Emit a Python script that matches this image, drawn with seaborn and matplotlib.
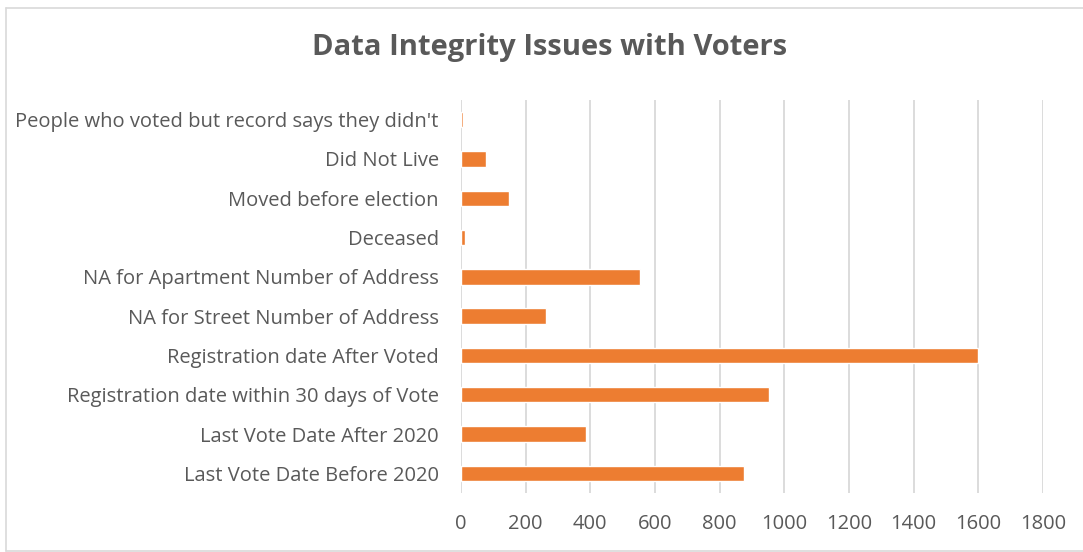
import matplotlib
matplotlib.use("Agg")
import matplotlib.pyplot as plt
import seaborn as sns
import pandas as pd
from matplotlib.lines import Line2D

categories = [
    "People who voted but record says they didn't",
    "Did Not Live",
    "Moved before election",
    "Deceased",
    "NA for Apartment Number of Address",
    "NA for Street Number of Address",
    "Registration date After Voted",
    "Registration date within 30 days of Vote",
    "Last Vote Date After 2020",
    "Last Vote Date Before 2020",
]
values = [7, 76, 148, 11, 555, 264, 1600, 954, 386, 874]
x_ticks = [0, 200, 400, 600, 800, 1000, 1200, 1400, 1600, 1800]
title = "Data Integrity Issues with Voters"

sns.set_theme(style="white")
plt.rcParams["font.family"] = ["Open Sans", "DejaVu Sans"]

W, H = 1083, 552
fig = plt.figure(figsize=(W / 100, H / 100), dpi=100)
ax = fig.add_axes([461 / W, 1 - 493 / H, (1043 - 461) / W, (493 - 100) / H])

df = pd.DataFrame({"category": categories, "value": values})
sns.barplot(data=df, x="value", y="category", orient="h", color="#ED7D31",
            width=0.39, saturation=1, ax=ax, zorder=3)

ax.set_xlim(0, 1800)
ax.set_ylim(len(categories) - 0.5, -0.5)
ax.set_xticks(x_ticks)
ax.set_xticklabels([str(t) for t in x_ticks])
ax.set_xlabel("")
ax.set_ylabel("")
for s in ax.spines.values():
    s.set_visible(False)
ax.grid(axis="x", color="#D9D9D9", linewidth=1.3, zorder=0)
ax.grid(axis="y", visible=False)
ax.set_axisbelow(True)
ax.tick_params(axis="y", length=0, pad=16, labelsize=14.5, labelcolor="#595959")
ax.tick_params(axis="x", length=0, pad=15, labelsize=14.5, labelcolor="#595959")

fig.text(550 / W, 1 - 47 / H, title, ha="center", va="center",
         fontsize=21, fontweight="bold", color="#595959")

# chart border
for (x0, y0, x1, y1) in [(6, 8, W, 8), (6, 8, 6, 551), (6, 551, W, 551)]:
    fig.add_artist(Line2D([x0 / W, x1 / W], [1 - y0 / H, 1 - y1 / H],
                          color="#D9D9D9", linewidth=1.2))

fig.savefig("out.png", dpi=100)
